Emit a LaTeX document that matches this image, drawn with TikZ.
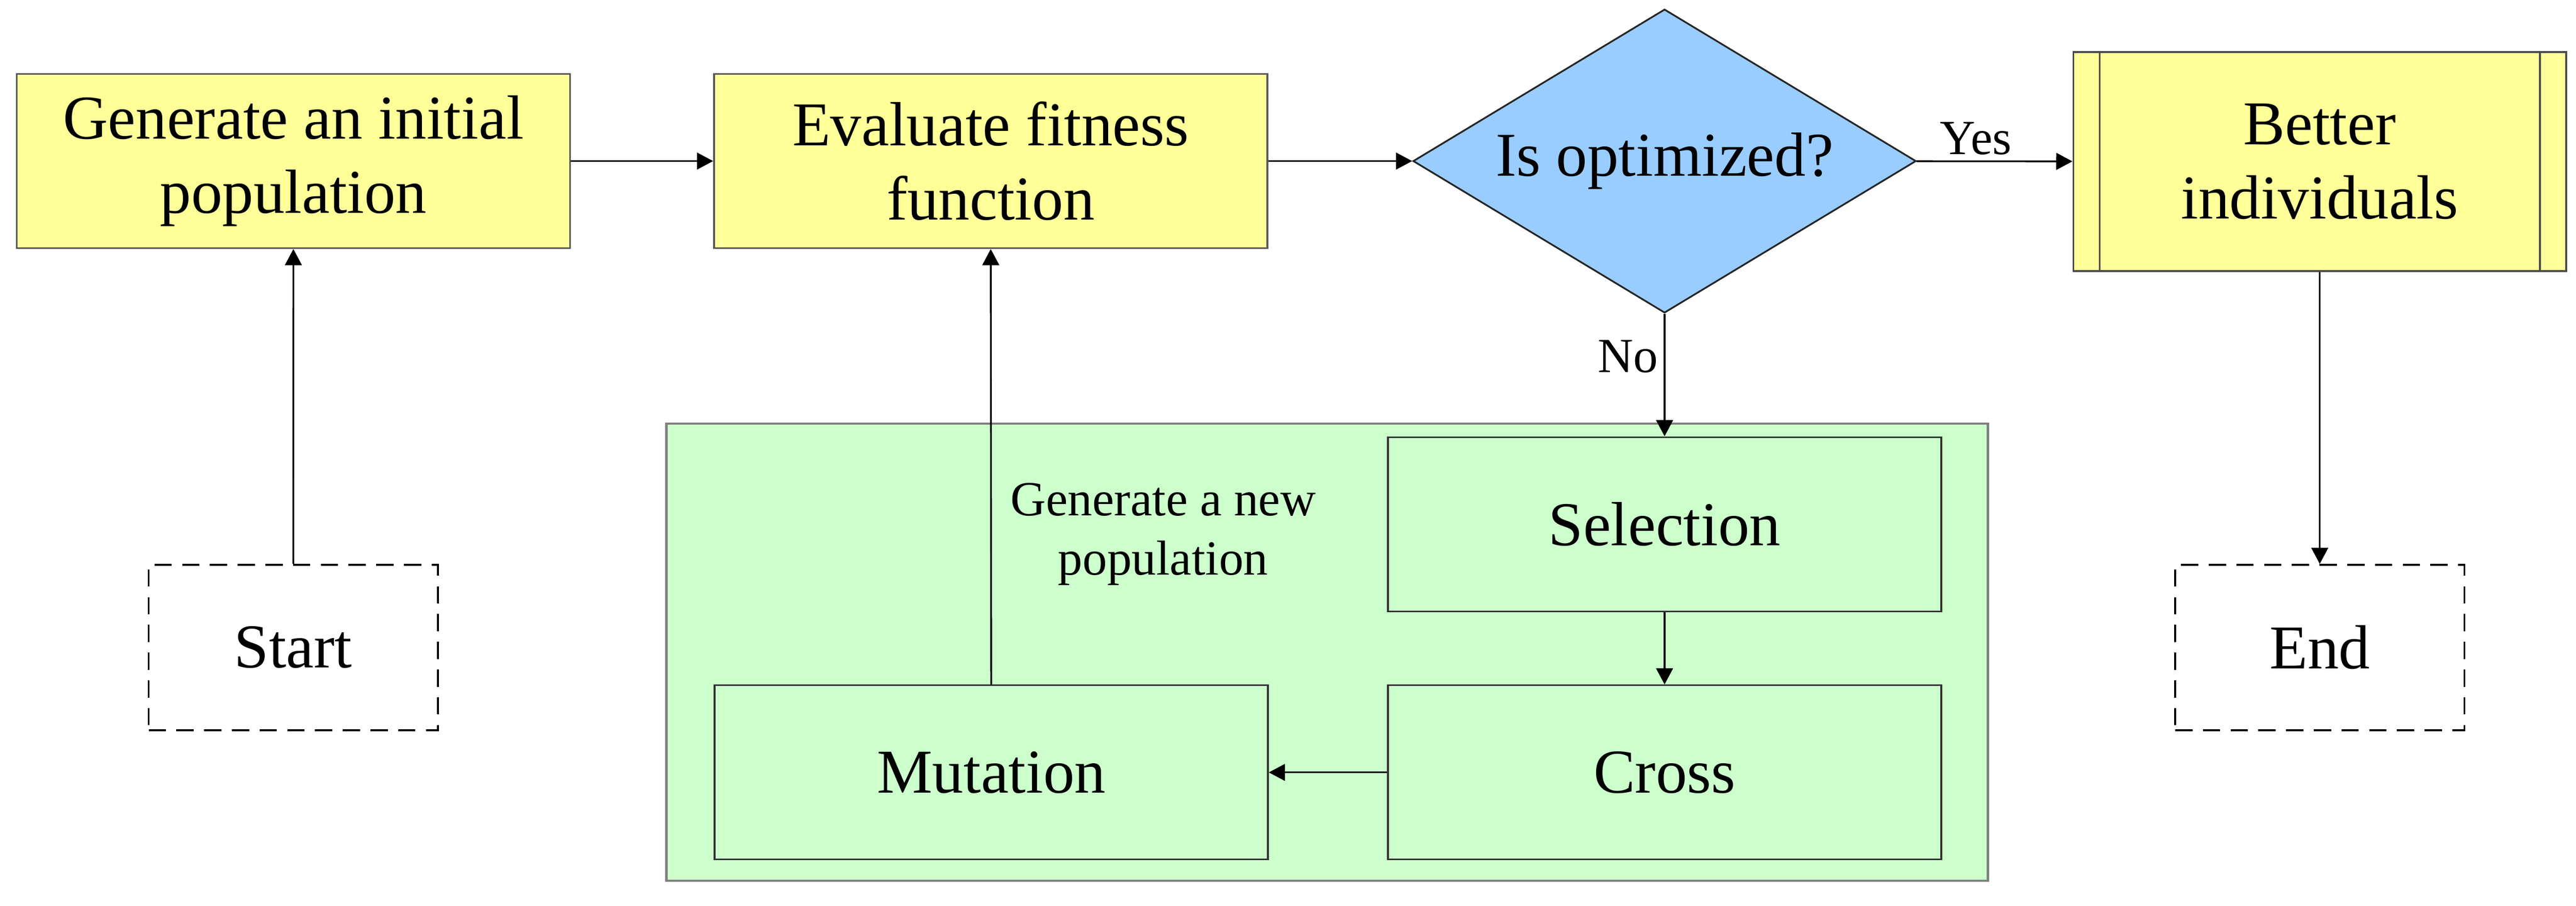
\documentclass[tikz,border=0pt]{standalone}
\usepackage{fontspec}
\setmainfont{Liberation Serif}
\usetikzlibrary{shapes.geometric,arrows.meta}
\definecolor{boxyellow}{HTML}{FFFF99}
\definecolor{boxblue}{HTML}{99CCFF}
\definecolor{boxgreen}{HTML}{CCFFCC}
\begin{document}
\begin{tikzpicture}[
  blk/.style={rectangle, draw=black!65, line width=0.3pt, fill=boxyellow, minimum width=3.368cm, minimum height=1.06cm, align=center, inner sep=0pt, font=\fontsize{10.8}{12.8}\selectfont},
  sub/.style={blk, fill=boxgreen, draw=black!80},
  term/.style={rectangle, draw=black, line width=0.3pt, dash pattern=on 3pt off 1.8pt, minimum width=1.76cm, minimum height=1.007cm, inner sep=0pt, font=\fontsize{10.8}{12.8}\selectfont},
  dec/.style={diamond, aspect=1.657, draw=black!85, line width=0.3pt, fill=boxblue, minimum width=3.062cm, minimum height=1.848cm, inner sep=0pt, font=\fontsize{10.8}{12.8}\selectfont},
  lbl/.style={font=\fontsize{8.5}{10.3}\selectfont, inner sep=1pt},
  e/.style={line width=0.3pt, -{Triangle[length=2.8pt,width=2.9pt]}}
]
\useasboundingbox (0,0) rectangle (15.68,-5.511);

% background of the loop
\fill[boxgreen, draw=black!50, line width=0.4pt] (4.057,-2.577) rectangle (12.10,-5.36);

\node[blk] (gen) at (1.786,-0.98) {Generate an initial\\population};
\node[blk] (eval) at (6.03,-0.98) {Evaluate fitness\\function};
\node[dec] (opt) at (10.132,-0.98) {Is optimized?};
\node[blk, draw=black!70, minimum width=3.0cm, minimum height=1.333cm] (best) at (14.12,-0.983) {Better\\individuals};
\draw[black!70, line width=0.3pt] ([xshift=0.165cm]best.north west) -- ([xshift=0.165cm]best.south west);
\draw[black!70, line width=0.3pt] ([xshift=-0.165cm]best.north east) -- ([xshift=-0.165cm]best.south east);

\node[term] (start) at (1.785,-3.94) {Start};
\node[term] (end) at (14.12,-3.94) {End};

\node[sub] (sel) at (10.132,-3.19) {Selection};
\node[sub] (cross) at (10.132,-4.70) {Cross};
\node[sub] (mut) at (6.034,-4.70) {Mutation};
\node[lbl, align=center] (newpop) at (7.08,-3.25) {Generate a new\\population};

% connectors
\draw[e] (start) -- (gen);
\draw[e] (gen) -- (eval);
\draw[e] (eval) -- (opt);
\draw[e] (opt) -- node[lbl, above, pos=0.38] {Yes} (best);
\draw[e] (opt) -- node[lbl, left, pos=0.35] {No} (sel);
\draw[e] (sel) -- (cross);
\draw[e] (cross) -- (mut);
\draw[e] (mut) -- (eval);
\draw[e] (best) -- (end);
\end{tikzpicture}
\end{document}
